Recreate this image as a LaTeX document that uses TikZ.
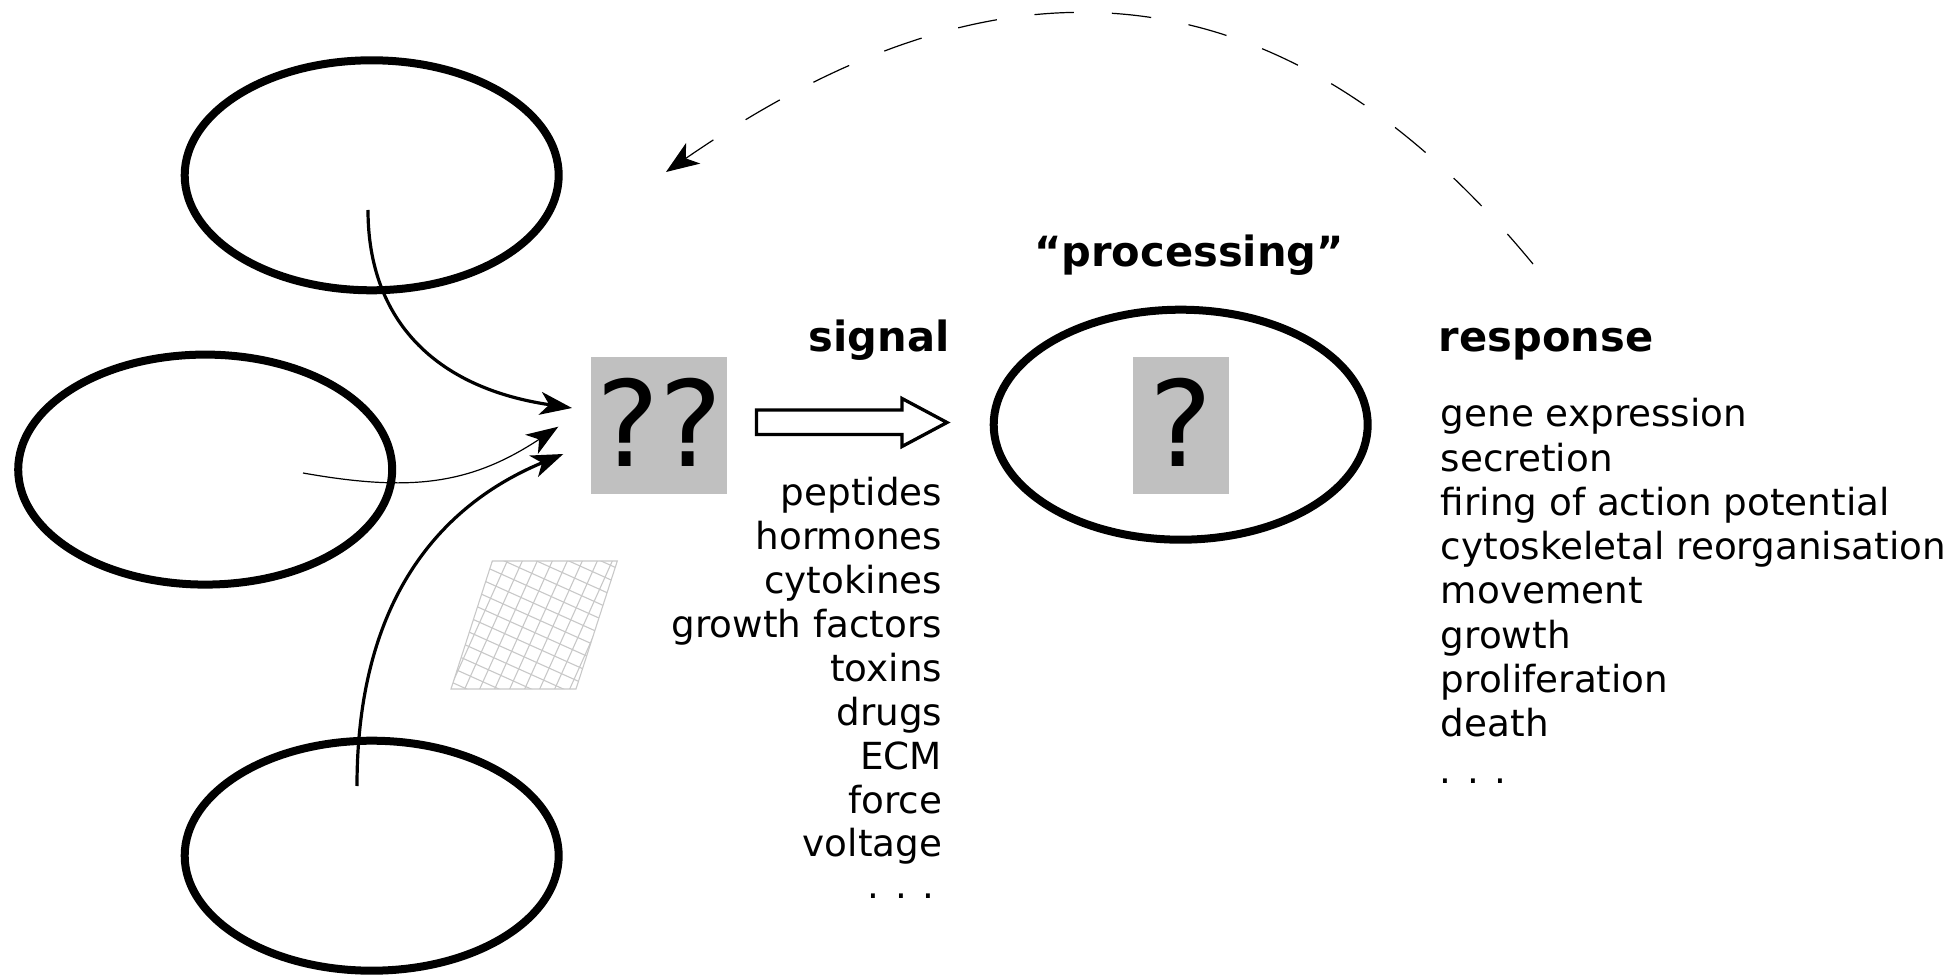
\documentclass[tikz,border=0pt]{standalone}
\usepackage{fontspec}
\setmainfont{DejaVu Sans}
\usetikzlibrary{shapes.geometric,arrows.meta}
\definecolor{boxgray}{RGB}{192,192,192}
\definecolor{hatchgray}{RGB}{200,200,200}
\begin{document}
\begin{tikzpicture}[x=0.5pt,y=-0.5pt,
  cell/.style={draw, ellipse, line width=4pt, minimum width=187pt, minimum height=115pt, inner sep=0pt},
  qbox/.style={fill=boxgray, inner sep=0pt, minimum height=68.6pt},
  qmark/.style={font=\fontsize{59.5}{70}\selectfont, inner sep=0pt, anchor=base},
  head/.style={font=\fontsize{20.8}{25}\selectfont\bfseries, inner sep=0pt},
  item/.style={font=\fontsize{18.65}{22}\selectfont, inner sep=0pt},
  feed/.style={-{Stealth[length=16pt,width=11.5pt,inset=4.5pt]}, line width=1.6pt},
  thinfeed/.style={-{Stealth[length=16pt,width=11.5pt,inset=4.5pt]}, line width=0.6pt},
  feedback/.style={dash pattern=on 19.75pt off 19pt, line width=0.6pt, -{Stealth[length=16.5pt,width=12.5pt,inset=4.5pt]}},
  hatchline/.style={draw=hatchgray, line width=0.55pt},
  bigarrow/.style={draw, line width=1.65pt, fill=white}]
\useasboundingbox (0,0) rectangle (1956,978);

% cells
\node[cell] (c1) at (371.7,175.3) {};
\node[cell] (c2) at (205.2,469.6) {};
\node[cell] (c3) at (371.7,855.7) {};
\node[cell] (proc) at (1180.7,424.7) {};

% question boxes
\node[qbox, minimum width=68pt] (box1) at (659.3,425.4) {};
\node[qmark] (qq) at (659.3,466.7) {??};
\node[qbox, minimum width=48pt] (box2) at (1180.7,425.4) {};
\node[qmark] (q) at (1180.7,466.7) {?};

% ECM hatch
\begin{scope}
  \clip (492.3,561) -- (617.3,561) -- (576,689) -- (451,689) -- cycle;
  \foreach \k in {-1,...,13} \draw[hatchline] (492.3+15*\k,561) -- ++(-57.6,128);
  \foreach \k in {-6,...,9} \draw[hatchline] (440,561+14.5*\k) -- ++(200,90);
\end{scope}
\draw[hatchline] (492.3,561) -- (617.3,561) -- (576,689) -- (451,689) -- cycle;

% arrows into ??
\coordinate (s1) at (368,210);
\coordinate (e1) at (572,408);
\coordinate (s2) at (303,473);
\coordinate (e2) at (558.3,426.7);
\coordinate (s3) at (357,786);
\coordinate (e3) at (563.3,454);
\draw[feed] (s1) .. controls (368,320) and (435,388) .. (e1);
\draw[thinfeed] (s2) .. controls (410,492) and (470,485) .. (e2);
\draw[feed] (s3) .. controls (357,600) and (440,505) .. (e3);

% signal arrow
\draw[bigarrow] (756.5,410) -- (902,410) -- (902,398.5) -- (947,422.5) -- (902,446.5) -- (902,434.5) -- (756.5,434.5) -- cycle;

% feedback
\coordinate (fs) at (1533,264);
\coordinate (fe) at (666,172);
\draw[feedback] (fs) .. controls (1228.6,-105.8) and (919,-2.2) .. (fe);

% headings
\node[head, anchor=base east] (signal) at (950,351.7) {signal};
\node[head, anchor=base west] (response) at (1438.5,351.7) {response};
\node[head, anchor=base] (processing) at (1189,266.7) {“processing”};

% signal list
\foreach \t [count=\i from 0] in {peptides,hormones,cytokines,growth factors,toxins,drugs,ECM,force,voltage}
  \node[item, anchor=base east] (sig\i) at (942.5,505.7+43.9*\i) {\t};
\node[item, anchor=base west] (sigdots) at (867,898) {. . .};

% response list
\foreach \t [count=\i from 0] in {gene expression,secretion,firing of action potential,cytoskeletal reorganisation,movement,growth,proliferation,death}
  \node[item, anchor=base west] (resp\i) at (1440.5,427+44.2*\i) {\t};
\node[item, anchor=base west] (respdots) at (1439,783) {. . .};
\end{tikzpicture}
\end{document}
